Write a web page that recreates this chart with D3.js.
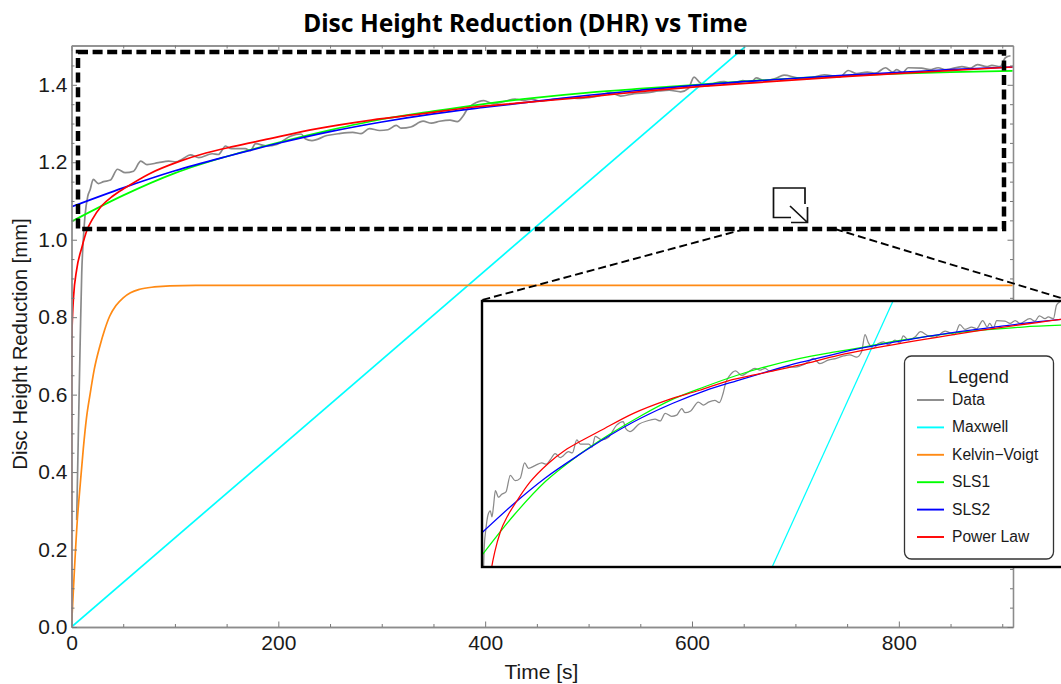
<!DOCTYPE html>
<html><head><meta charset="utf-8">
<script src="https://cdn.jsdelivr.net/npm/d3@7"></script>
<style>html,body{margin:0;background:#fff}svg{display:block}text{font-family:"Liberation Sans",Arial,sans-serif;fill:#1a1a1a}</style>
</head><body><svg id="c" width="1061" height="684"></svg>
<script>
const chartTitle="Disc Height Reduction (DHR) vs Time";
const xLabel="Time [s]", yLabel="Disc Height Reduction [mm]";
const xTicks=[0,200,400,600,800], yTicks=[0,0.2,0.4,0.6,0.8,1.0,1.2,1.4];
const xMinor=[50,100,150,250,300,350,450,500,550,650,700,750,850,900];
const yMinor=[0.05,0.1,0.15,0.25,0.3,0.35,0.45,0.5,0.55,0.65,0.7,0.75,0.85,0.9,0.95,1.05,1.1,1.15,1.25,1.3,1.35,1.45];

const dataT=[5,7,8.5,9.9,11.4,13,15.7,18,21,26,31,37.7,44.5,52,60,67,73,84,94,101,107,115,123,136,142,149,154.5,168,173,178,189,198.5,211.6,222,226,232.5,247,259,272,280,288,298,306,314,319,328,340,348,356,366,373,379,383.4,388,398.6,408,418.5,429,437,445,452.6,468,480,492,500,513,520.7,531,544,557,568,578,589,596.6,602,607,615,623,631,638.6,649,657,662,670,680.5,689,701.5,712,728,743,751,759,769.5,777.4,787,794,798,803.6,809,822,830,838,845.5,861,869,876,885,890,898,903,908];
const dataV=[0.276,0.55,0.75,0.914,1.0,1.06,1.112,1.129,1.156,1.145,1.150,1.154,1.182,1.173,1.177,1.203,1.194,1.199,1.203,1.201,1.208,1.219,1.212,1.222,1.220,1.242,1.235,1.235,1.230,1.248,1.242,1.246,1.267,1.273,1.261,1.256,1.269,1.274,1.277,1.274,1.287,1.282,1.284,1.295,1.288,1.291,1.306,1.301,1.306,1.309,1.305,1.321,1.340,1.349,1.359,1.351,1.357,1.363,1.360,1.363,1.358,1.363,1.366,1.365,1.367,1.374,1.380,1.371,1.377,1.380,1.384,1.386,1.382,1.391,1.420,1.407,1.397,1.405,1.408,1.403,1.411,1.406,1.418,1.411,1.416,1.425,1.418,1.416,1.426,1.420,1.437,1.429,1.433,1.430,1.444,1.433,1.439,1.431,1.444,1.443,1.439,1.444,1.439,1.447,1.443,1.452,1.447,1.450,1.447,1.470,1.475];
const insetDataStartT=[2,3.5,6,9.4,13];
const insetDataStartV=[1.0,1.06,1.09,1.115,1.122];

const maxwellT=[0,652], maxwellV=[0,1.5];
const insetMaxwellT=[456,646], insetMaxwellV=[1.027,1.477];
const kelvinT=[0,2,5.6,8.5,11.4,14.5,17.9,22,27.6,32,37,43,50,57,66,80,95,120,910];
const kelvinV=[0,0.105,0.275,0.37,0.46,0.54,0.6,0.665,0.727,0.767,0.803,0.83,0.85,0.863,0.872,0.878,0.881,0.882,0.882];
const sls1T=[0,50,100,150,200,250,300,350,400,450,500,550,600,650,700,750,800,850,910];
const sls1V=[1.047,1.1145,1.172,1.215,1.251,1.283,1.311,1.332,1.351,1.367,1.380,1.390,1.399,1.409,1.417,1.424,1.429,1.433,1.436];
const sls2T=[0,50,100,150,200,250,300,350,400,450,500,550,600,650,700,750,800,850,910];
const sls2V=[1.085,1.134,1.178,1.215,1.249,1.279,1.304,1.325,1.342,1.358,1.373,1.386,1.398,1.408,1.417,1.425,1.432,1.439,1.446];
const powerT=[0,0.01,0.1,0.5,1,2,5,10,15,20,29,40,52,75,105,130,157,185,238,290,342,387,437,500,560,620,751,910];
const powerV=[0,0.54,0.66,0.76,0.804,0.853,0.923,0.98,1.025,1.052,1.087,1.113,1.134,1.170,1.203,1.224,1.241,1.257,1.287,1.309,1.326,1.342,1.354,1.369,1.385,1.398,1.422,1.446];

const legendNames=["Data","Maxwell","Kelvin\u2212Voigt","SLS1","SLS2","Power Law"];
const colors=["#8a8a8a","#00ffff","#ff8a14","#00ff00","#0000ff","#ff0000"];

const svg=d3.select("#c");
const L=71.5,R=1013,T=45.5,B=627;
const x=d3.scaleLinear().domain([0,910.4]).range([L,R]);
const y=d3.scaleLinear().domain([0,1.5015]).range([B,T]);
const zip=(a,b)=>a.map((d,i)=>[d,b[i]]);
const mainSeries=[
 {c:colors[0],p:zip(dataT,dataV),cv:d3.curveMonotoneX},
 {c:colors[1],p:zip(maxwellT,maxwellV),cv:d3.curveLinear},
 {c:colors[2],p:zip(kelvinT,kelvinV),cv:d3.curveMonotoneX},
 {c:colors[3],p:zip(sls1T,sls1V),cv:d3.curveMonotoneX},
 {c:colors[4],p:zip(sls2T,sls2V),cv:d3.curveMonotoneX},
 {c:colors[5],p:zip(powerT,powerV),cv:d3.curveMonotoneX}];

const defs=svg.append("defs");
defs.append("clipPath").attr("id","mc").append("rect").attr("x",L).attr("y",T).attr("width",R-L).attr("height",B-T);

const g=svg.append("g").attr("clip-path","url(#mc)");
mainSeries.forEach(s=>{
 g.append("path").datum(s.p).attr("fill","none").attr("stroke",s.c).attr("stroke-width",1.7)
  .attr("d",d3.line().x(d=>x(d[0])).y(d=>y(d[1])).curve(s.cv));
});

// frame and ticks
const axisCol="#8c8c8c";
function style(a){a.selectAll("path.domain").attr("stroke",axisCol).attr("stroke-width",1.3);
 a.selectAll("line").attr("stroke","#777").attr("stroke-width",1);
 a.selectAll("text").attr("font-size",21).attr("font-family",'"Liberation Sans"').attr("fill","#1a1a1a");}
const ax=[
 [d3.axisBottom(x).tickValues(xTicks).tickSizeInner(-5.5).tickSizeOuter(0).tickPadding(8).tickFormat(d3.format("d")),`translate(0,${B})`],
 [d3.axisBottom(x).tickValues(xMinor).tickSizeInner(-3).tickSizeOuter(0).tickFormat(""),`translate(0,${B})`],
 [d3.axisTop(x).tickValues(xTicks).tickSizeInner(-5.5).tickSizeOuter(0).tickFormat(""),`translate(0,${T})`],
 [d3.axisTop(x).tickValues(xMinor).tickSizeInner(-3).tickSizeOuter(0).tickFormat(""),`translate(0,${T})`],
 [d3.axisLeft(y).tickValues(yTicks).tickSizeInner(-5.5).tickSizeOuter(0).tickPadding(4).tickFormat(d3.format(".1f")),`translate(${L},0)`],
 [d3.axisLeft(y).tickValues(yMinor).tickSizeInner(-3).tickSizeOuter(0).tickFormat(""),`translate(${L},0)`],
 [d3.axisRight(y).tickValues(yTicks).tickSizeInner(-5.5).tickSizeOuter(0).tickFormat(""),`translate(${R},0)`],
 [d3.axisRight(y).tickValues(yMinor).tickSizeInner(-3).tickSizeOuter(0).tickFormat(""),`translate(${R},0)`]];
ax.forEach(([a,t])=>svg.append("g").attr("transform",t).call(a).call(style));

// titles
svg.append("text").attr("x",525.5).attr("y",32).attr("text-anchor","middle").attr("font-size",24.5)
 .style("font-family",'"Noto Sans"').style("font-weight",700).style("fill","#000").text(chartTitle);
svg.append("text").attr("x",541.5).attr("y",679).attr("text-anchor","middle").attr("font-size",21).text(xLabel);
svg.append("text").attr("transform","translate(27,344) rotate(-90)").attr("text-anchor","middle").attr("font-size",20.3).text(yLabel);

// zoom rectangle, icon, connectors
svg.append("rect").attr("x",78).attr("y",52).attr("width",926).attr("height",177).attr("fill","none")
 .attr("stroke","#000").attr("stroke-width",4.5).attr("stroke-dasharray","10,4.6");
svg.append("path").attr("d","M805,204V188H773.5V217.5H791").attr("fill","none").attr("stroke","#111").attr("stroke-width",1.7);
svg.append("path").attr("d","M790,206L807.5,222.5M791,222.5H807.5V207").attr("fill","none").attr("stroke","#111").attr("stroke-width",1.7);
svg.append("path").attr("d","M745,229L482,300M835,229L1061,298").attr("fill","none").attr("stroke","#000").attr("stroke-width",1.9).attr("stroke-dasharray","8,4");

// inset
const iL=482,iR=1061,iT=301,iB=567;
const ix=d3.scaleLinear().domain([0,910]).range([iL,iR]);
const iy=d3.scaleLinear().domain([1.027,1.477]).range([iB,iT]);
defs.append("clipPath").attr("id","ic").append("rect").attr("x",iL).attr("y",iT).attr("width",iR-iL).attr("height",iB-iT);
svg.append("rect").attr("x",iL).attr("y",iT).attr("width",iR-iL+5).attr("height",iB-iT).attr("fill","#fff");
const ig=svg.append("g").attr("clip-path","url(#ic)");
const insetData=zip(insetDataStartT,insetDataStartV).concat(zip(dataT,dataV).filter(d=>d[0]>15));
mainSeries.map((s,i)=>i==1?{...s,p:zip(insetMaxwellT,insetMaxwellV)}:i==0?{...s,p:insetData}:s).filter((s,i)=>i!=2).forEach(s=>{
 ig.append("path").datum(s.p).attr("fill","none").attr("stroke",s.c).attr("stroke-width",1.25)
  .attr("d",d3.line().x(d=>ix(d[0])).y(d=>iy(d[1])).curve(s.cv));
});
svg.append("rect").attr("x",iL).attr("y",iT).attr("width",iR-iL+5).attr("height",iB-iT).attr("fill","none").attr("stroke","#000").attr("stroke-width",2.4);

// legend
svg.append("rect").attr("x",904.5).attr("y",356).attr("width",149).attr("height",203).attr("rx",7).attr("fill","#fff").attr("stroke","#333").attr("stroke-width",1.3);
svg.append("text").attr("x",978.5).attr("y",383).attr("text-anchor","middle").attr("font-size",18.2).text("Legend");
const ly=d3.scalePoint().domain(legendNames).range([400,537]);
legendNames.forEach((n,i)=>{
 svg.append("line").attr("x1",917).attr("x2",944).attr("y1",ly(n)).attr("y2",ly(n)).attr("stroke",colors[i]).attr("stroke-width",1.9);
 svg.append("text").attr("x",952).attr("y",ly(n)+5).attr("font-size",15.6).text(n);
});
</script></body></html>
